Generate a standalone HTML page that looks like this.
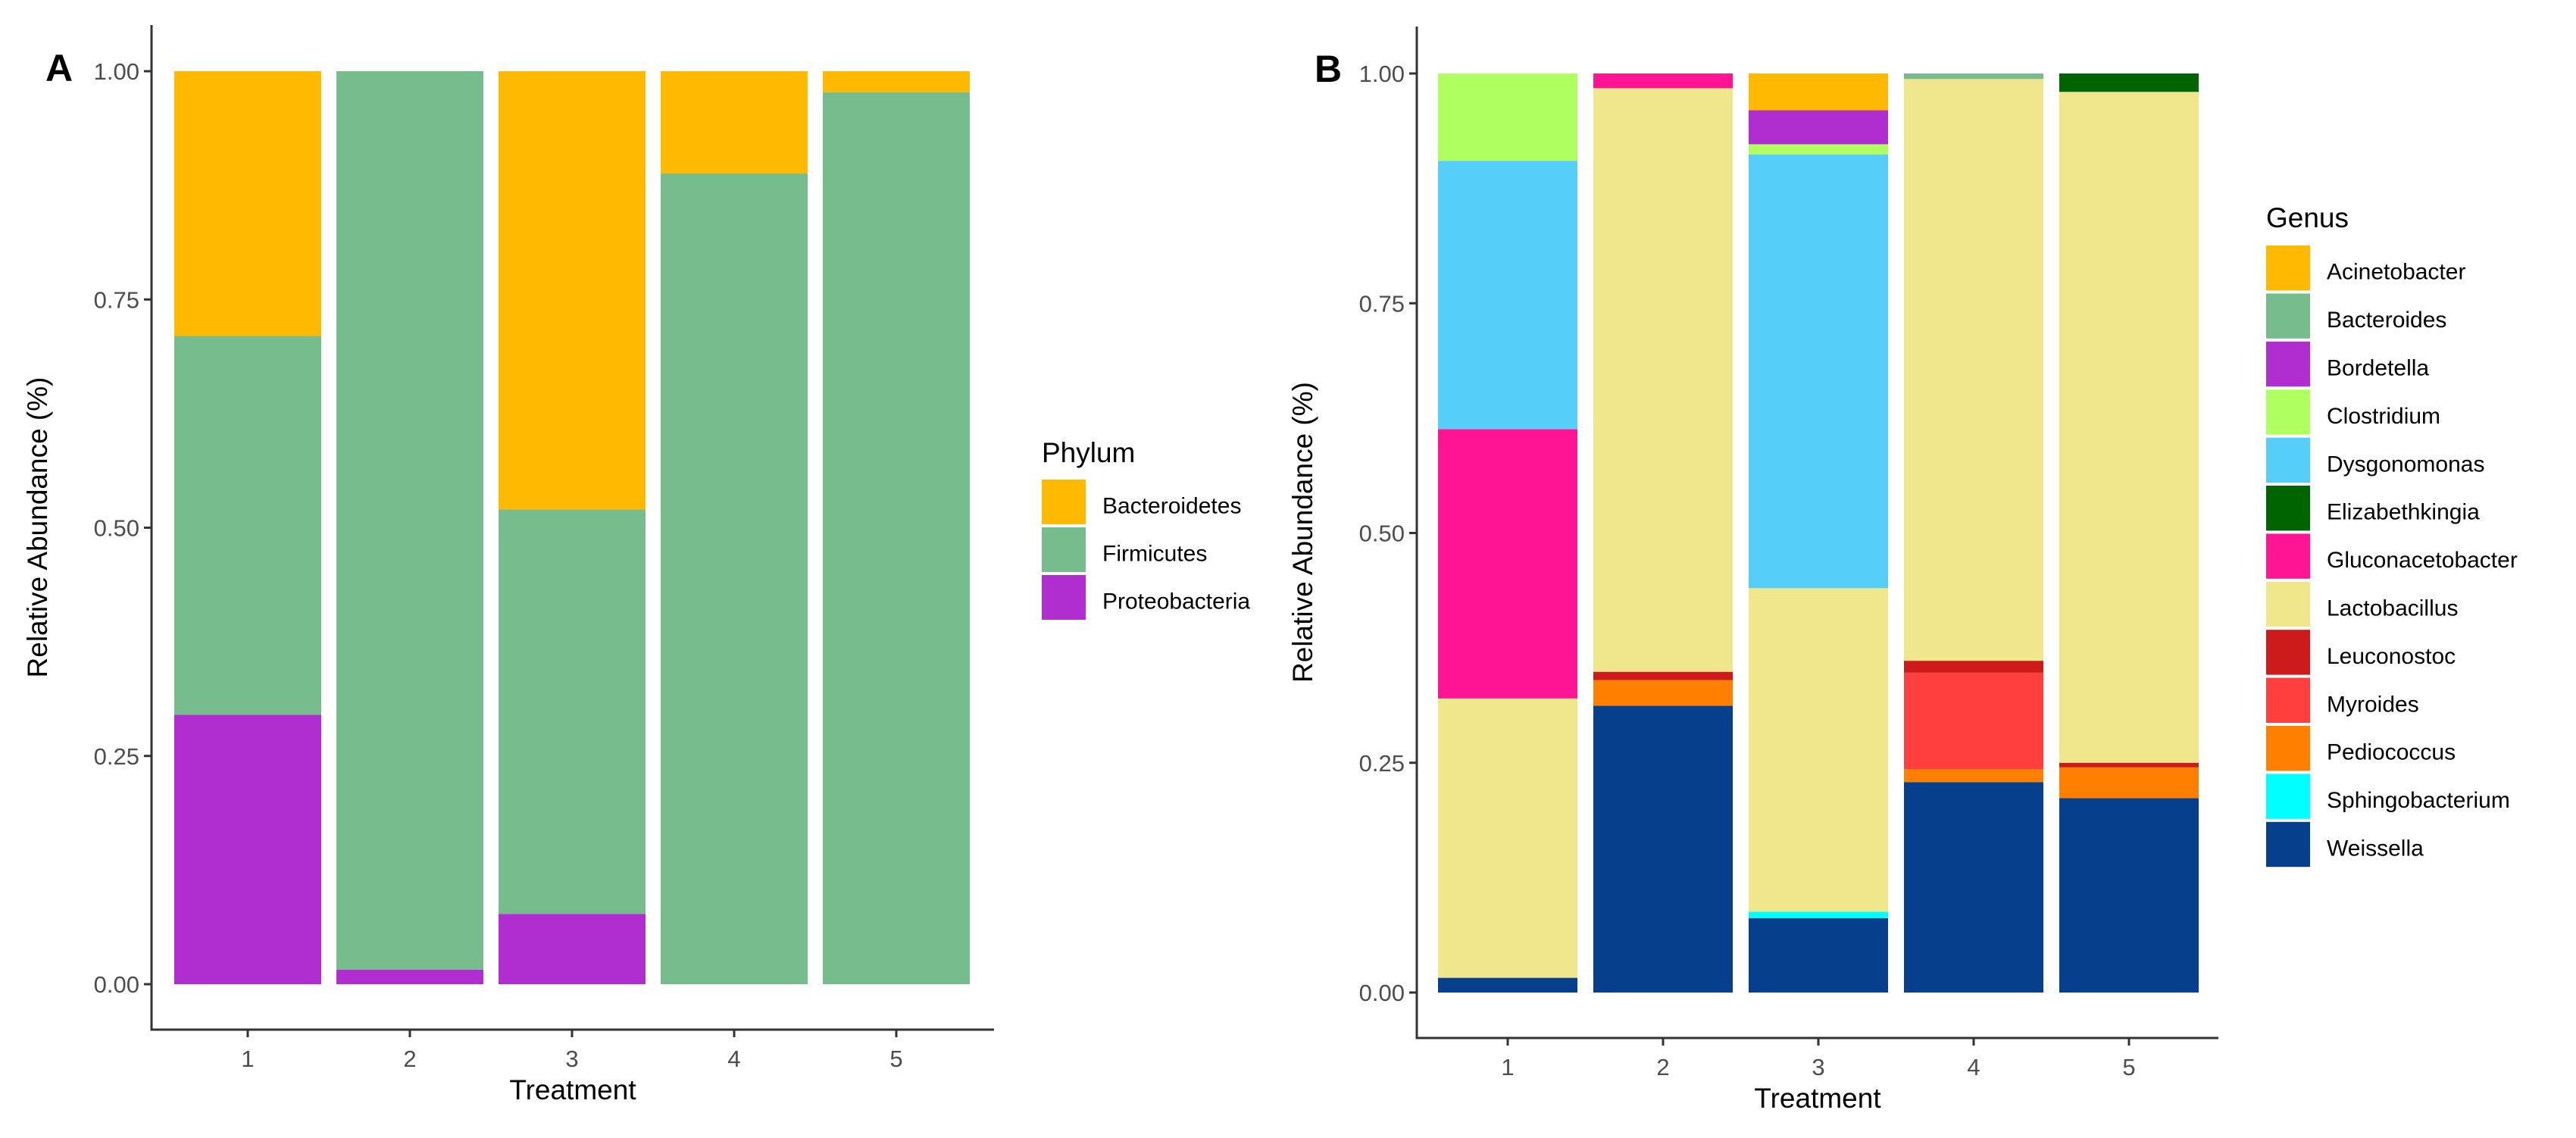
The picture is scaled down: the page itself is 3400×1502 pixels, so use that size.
<!DOCTYPE html>
<html><head><meta charset="utf-8"><style>
html,body{margin:0;padding:0;background:#fff;}
svg{display:block;font-family:"Liberation Sans",Arial,sans-serif;}
</style></head><body>
<svg id="fig" width="3400" height="1502" viewBox="0 0 3400 1502">
  <text x="60" y="107" font-size="50" font-weight="bold" fill="#000">A</text>
  <text x="1735" y="108" font-size="50" font-weight="bold" fill="#000">B</text>
</svg>
<script>
// ---------- Panel A data ----------
const phylaTreatments = ["1","2","3","4","5"];
const phylaNames = ["Bacteroidetes","Firmicutes","Proteobacteria"];
const phylaColors = ["#FFB900","#76BC8C","#B02ECF"];
const proteobacteria = [0.295,0.016,0.077,0,0];
const firmicutes = [0.415,0.984,0.443,0.888,0.977];
const bacteroidetes = [0.29,0,0.48,0.112,0.023];
const yTicks = [0,0.25,0.5,0.75,1];
const yTickLabels = ["0.00","0.25","0.50","0.75","1.00"];

// ---------- Panel B data ----------
const genusTreatments = ["1","2","3","4","5"];
const genusNames = ["Acinetobacter","Bacteroides","Bordetella","Clostridium","Dysgonomonas","Elizabethkingia","Gluconacetobacter","Lactobacillus","Leuconostoc","Myroides","Pediococcus","Sphingobacterium","Weissella"];
const genusColors = ["#FFB900","#76BC8C","#B02ECF","#B0FF60","#55CFFA","#006400","#FF1493","#F0E68C","#CD1A1A","#FF3E3E","#FF8000","#00FFFF","#063F8C"];
const acinetobacter = [0,0,0.04,0,0];
const bacteroides = [0,0,0,0.006,0];
const bordetella = [0,0,0.037,0,0];
const clostridium = [0.095,0,0.011,0,0];
const dysgonomonas = [0.292,0,0.472,0,0];
const elizabethkingia = [0,0,0,0,0.02];
const gluconacetobacter = [0.293,0.016,0,0,0];
const lactobacillus = [0.304,0.635,0.352,0.633,0.73];
const leuconostoc = [0,0.009,0,0.013,0.005];
const myroides = [0,0,0,0.105,0];
const pediococcus = [0,0.028,0,0.014,0.0335];
const sphingobacterium = [0,0,0.007,0,0];
const weissella = [0.016,0.312,0.081,0.229,0.2115];
const genusSeries = [acinetobacter,bacteroides,bordetella,clostridium,dysgonomonas,elizabethkingia,gluconacetobacter,lactobacillus,leuconostoc,myroides,pediococcus,sphingobacterium,weissella];
const phylaSeries = [bacteroidetes,firmicutes,proteobacteria];

const NS="http://www.w3.org/2000/svg";
const svg=document.getElementById('fig');
function mk(tag,attrs,parent){const e=document.createElementNS(NS,tag);for(const k in attrs)e.setAttribute(k,attrs[k]);(parent||svg).appendChild(e);return e;}

function panel(cfg){
  const g=mk('g',{});
  
  
  const y=v=>cfg.y0+(cfg.y1-cfg.y0)*v;
  const x=i=>cfg.x1+cfg.step*i;
  cfg.cats.forEach((c,i)=>{
    let acc=0;
    for(let s=cfg.series.length-1;s>=0;s--){
      const v=cfg.series[s][i];
      if(v<=0)continue;
      const r=mk('rect',{x:x(i)-cfg.bw/2,y:y(acc+v),width:cfg.bw,height:y(acc)-y(acc+v),fill:cfg.colors[s]},g);
      
      
      acc+=v;
    }
  });
  const ya=mk('line',{x1:cfg.ax,y1:cfg.top,x2:cfg.ax,y2:cfg.axy,stroke:'#333','stroke-width':3},g);
  
  
  const xa=mk('line',{x1:cfg.ax-1.5,y1:cfg.axy,x2:cfg.axEnd,y2:cfg.axy,stroke:'#333','stroke-width':3},g);
  
  
  yTicks.forEach((t,k)=>{
    mk('line',{x1:cfg.ax-10,y1:y(t),x2:cfg.ax,y2:y(t),stroke:'#333','stroke-width':3},g);
    const tl=mk('text',{x:cfg.ax-16,y:y(t)+11,'font-size':31,fill:'#4d4d4d','text-anchor':'end'},g);
    tl.textContent=yTickLabels[k];
    
    
  });
  cfg.cats.forEach((c,i)=>{
    mk('line',{x1:x(i),y1:cfg.axy,x2:x(i),y2:cfg.axy+10,stroke:'#333','stroke-width':3},g);
    const tl=mk('text',{x:x(i),y:cfg.axy+49,'font-size':31,fill:'#4d4d4d','text-anchor':'middle'},g);
    tl.textContent=c;
    
    
  });
  const xt=mk('text',{x:(cfg.ax+cfg.axEnd)/2,y:cfg.axy+92,'font-size':37,fill:'#000','text-anchor':'middle'},g);
  xt.textContent='Treatment';
  
  
  const yt=mk('text',{x:0,y:0,'font-size':37,fill:'#000','text-anchor':'middle',transform:`translate(${cfg.ytx},${(cfg.top+cfg.axy)/2}) rotate(-90)`},g);
  yt.textContent='Relative Abundance (%)';
  
  
  const lt=mk('text',{x:cfg.lx,y:cfg.lty,'font-size':37,fill:'#000'},g);
  lt.textContent=cfg.legendTitle;
  
  
  cfg.names.forEach((n,s)=>{
    const ry=cfg.ly+cfg.lstep*s;
    const kh=cfg.lstep-4;
    const k=mk('rect',{x:cfg.lx,y:ry,width:58,height:kh,fill:cfg.colors[s]},g);
    
    
    const t=mk('text',{x:cfg.lx+80,y:ry+kh/2+15,'font-size':30,fill:'#000'},g);
    t.textContent=n;
    
    
  });
}

panel({id:'phylum',cats:phylaTreatments,series:phylaSeries,names:phylaNames,colors:phylaColors,
  y0:1299,y1:94,x1:327,step:214,bw:194,ax:200,axy:1359,axEnd:1312,top:33,ytx:62,
  legendTitle:'Phylum',lx:1375,lty:610,ly:633,lstep:63});
panel({id:'genus',cats:genusTreatments,series:genusSeries,names:genusNames,colors:genusColors,
  y0:1310,y1:97,x1:1990,step:205,bw:184,ax:1870,axy:1370,axEnd:2928,top:35,ytx:1732,
  legendTitle:'Genus',lx:2991,lty:300,ly:324,lstep:63.4});
</script>
</body></html>
